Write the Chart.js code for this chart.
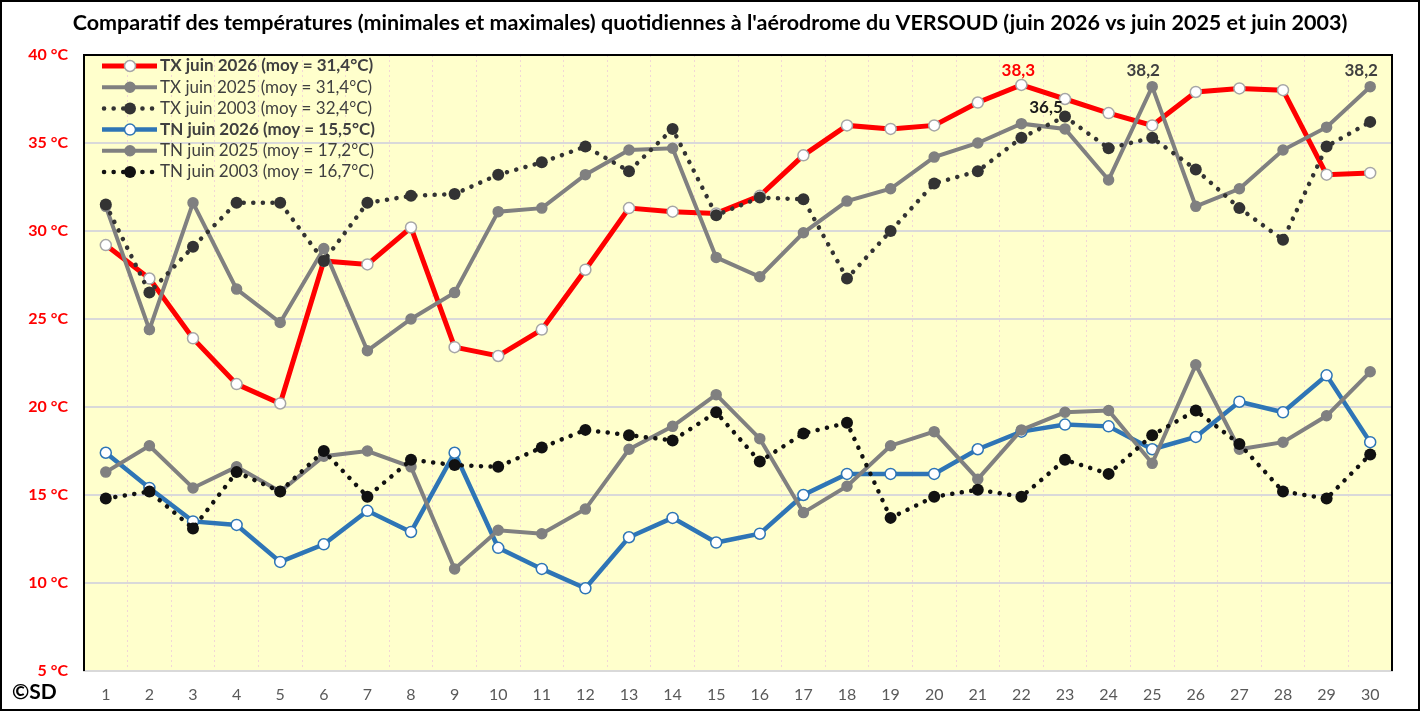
<!DOCTYPE html>
<html lang="fr">
<head>
<meta charset="utf-8">
<title>Températures juin - Le Versoud</title>
<script src="https://cdn.jsdelivr.net/npm/chart.js@4.4.1/dist/chart.umd.min.js"></script>
<style>
  html, body { margin: 0; padding: 0; background: #fff; }
  #wrap { width: 1420px; height: 711px; }
</style>
</head>
<body>
<div id="wrap"><canvas id="chart-versoud" width="1420" height="711"></canvas></div>
<script>
  "use strict";

  var days = ['1', '2', '3', '4', '5', '6', '7', '8', '9', '10', '11', '12', '13', '14', '15',
    '16', '17', '18', '19', '20', '21', '22', '23', '24', '25', '26', '27', '28', '29', '30'];

  var txJuin2026 = [29.2, 27.3, 23.9, 21.3, 20.2, 28.3, 28.1, 30.2, 23.4, 22.9, 24.4, 27.8, 31.3, 31.1, 31.0,
    32.0, 34.3, 36.0, 35.8, 36.0, 37.3, 38.3, 37.5, 36.7, 36.0, 37.9, 38.1, 38.0, 33.2, 33.3];
  var txJuin2025 = [31.4, 24.4, 31.6, 26.7, 24.8, 29.0, 23.2, 25.0, 26.5, 31.1, 31.3, 33.2, 34.6, 34.7, 28.5,
    27.4, 29.9, 31.7, 32.4, 34.2, 35.0, 36.1, 35.8, 32.9, 38.2, 31.4, 32.4, 34.6, 35.9, 38.2];
  var txJuin2003 = [31.5, 26.5, 29.1, 31.6, 31.6, 28.3, 31.6, 32.0, 32.1, 33.2, 33.9, 34.8, 33.4, 35.8, 30.9,
    31.9, 31.8, 27.3, 30.0, 32.7, 33.4, 35.3, 36.5, 34.7, 35.3, 33.5, 31.3, 29.5, 34.8, 36.2];
  var tnJuin2026 = [17.4, 15.4, 13.5, 13.3, 11.2, 12.2, 14.1, 12.9, 17.4, 12.0, 10.8, 9.7, 12.6, 13.7, 12.3,
    12.8, 15.0, 16.2, 16.2, 16.2, 17.6, 18.6, 19.0, 18.9, 17.6, 18.3, 20.3, 19.7, 21.8, 18.0];
  var tnJuin2025 = [16.3, 17.8, 15.4, 16.6, 15.2, 17.2, 17.5, 16.6, 10.8, 13.0, 12.8, 14.2, 17.6, 18.9, 20.7,
    18.2, 14.0, 15.5, 17.8, 18.6, 15.9, 18.7, 19.7, 19.8, 16.8, 22.4, 17.6, 18.0, 19.5, 22.0];
  var tnJuin2003 = [14.8, 15.2, 13.1, 16.3, 15.2, 17.5, 14.9, 17.0, 16.7, 16.6, 17.7, 18.7, 18.4, 18.1, 19.7,
    16.9, 18.5, 19.1, 13.7, 14.9, 15.3, 14.9, 17.0, 16.2, 18.4, 19.8, 17.9, 15.2, 14.8, 17.3];

  var seriesLabels = [
    'TX juin 2026 (moy = 31,4°C)',
    'TX juin 2025 (moy = 31,4°C)',
    'TX juin 2003 (moy = 32,4°C)',
    'TN juin 2026 (moy = 15,5°C)',
    'TN juin 2025 (moy = 17,2°C)',
    'TN juin 2003 (moy = 16,7°C)'
  ];
  var yTicks = [5, 10, 15, 20, 25, 30, 35, 40];

  // valeurs remarquables affichees au-dessus des points : [serie, jour]
  var valueLabels = [[0, 21], [1, 24], [1, 29], [2, 22]];

  var FONT = 'Lato, "Open Sans", "Liberation Sans", sans-serif';
  var labelStyle = {
    0: { color: '#FF0000', dx: -3, dy: -14 },
    1: { color: '#404040', dx: -9, dy: -16 },
    2: { color: '#1A1A1A', dx: -19, dy: -9 }
  };

  function fmt(v) {
    return v.toFixed(1).replace('.', ',');
  }

  function solidLine(label, data, color, width, pointFill, pointBorder, radius) {
    return {
      label: label,
      data: data,
      borderColor: color,
      borderWidth: width,
      pointRadius: radius,
      pointBackgroundColor: pointFill,
      pointBorderColor: pointBorder,
      pointBorderWidth: 1.5,
      tension: 0,
      fill: false
    };
  }

  function dottedLine(label, data, color) {
    return {
      label: label,
      data: data,
      borderColor: color,
      borderWidth: 4.5,
      borderDash: [0.1, 9.5],
      borderCapStyle: 'round',
      pointRadius: 6,
      pointBackgroundColor: color,
      pointBorderColor: color,
      pointBorderWidth: 0,
      tension: 0,
      fill: false
    };
  }

  var datasets = [
    solidLine(seriesLabels[0], txJuin2026, '#FF0000', 5, '#FFFFFF', '#A6A6A6', 5.5),
    solidLine(seriesLabels[1], txJuin2025, '#808080', 4, '#808080', '#808080', 5),
    dottedLine(seriesLabels[2], txJuin2003, '#333333'),
    solidLine(seriesLabels[3], tnJuin2026, '#2E75B6', 4.5, '#FFFFFF', '#2E75B6', 5.5),
    solidLine(seriesLabels[4], tnJuin2025, '#808080', 4, '#808080', '#808080', 5),
    dottedLine(seriesLabels[5], tnJuin2003, '#111111')
  ];
  // les dernieres series passent au-dessus
  datasets.forEach(function (d, i) { d.order = datasets.length - i; });

  var decorPlugin = {
    id: 'decor',
    beforeDraw: function (chart) {
      var a = chart.chartArea, ctx = chart.ctx;
      ctx.save();
      ctx.fillStyle = '#FFFFCC';
      ctx.fillRect(a.left, a.top, a.right - a.left, a.bottom - a.top);
      ctx.restore();
    },
    afterDraw: function (chart) {
      var a = chart.chartArea, ctx = chart.ctx;
      ctx.save();

      // cadre de la zone de trace
      ctx.strokeStyle = '#000000';
      ctx.lineWidth = 2;
      ctx.setLineDash([]);
      ctx.beginPath();
      ctx.moveTo(a.left, a.bottom);
      ctx.lineTo(a.left, a.top);
      ctx.lineTo(a.right, a.top);
      ctx.lineTo(a.right, a.bottom);
      ctx.stroke();

      // cadre general
      ctx.strokeRect(1, 1, chart.width - 2, chart.height - 2);

      // legende interne
      var rowY = 66, rowH = 21.2;
      chart.data.datasets.forEach(function (d, i) {
        var y = rowY + i * rowH;
        ctx.save();
        ctx.strokeStyle = d.borderColor;
        ctx.lineWidth = d.borderWidth;
        ctx.lineCap = d.borderCapStyle || 'butt';
        ctx.setLineDash(d.borderDash || []);
        ctx.beginPath();
        ctx.moveTo(d.borderDash ? 104 : 102, y);
        ctx.lineTo(157, y);
        ctx.stroke();
        ctx.setLineDash([]);
        ctx.beginPath();
        ctx.arc(130, y, d.pointRadius, 0, Math.PI * 2);
        ctx.fillStyle = d.pointBackgroundColor;
        ctx.fill();
        if (d.pointBorderWidth) {
          ctx.lineWidth = d.pointBorderWidth;
          ctx.strokeStyle = d.pointBorderColor;
          ctx.stroke();
        }
        ctx.restore();
        ctx.font = (i === 0 || i === 3 ? 'bold ' : '') + '17px ' + FONT;
        ctx.fillStyle = '#404040';
        ctx.textAlign = 'left';
        ctx.textBaseline = 'middle';
        ctx.fillText(d.label, 160, y);
      });

      // valeurs remarquables
      ctx.font = 'bold 17px ' + FONT;
      ctx.textAlign = 'center';
      ctx.textBaseline = 'middle';
      valueLabels.forEach(function (vl) {
        var pt = chart.getDatasetMeta(vl[0]).data[vl[1]];
        var st = labelStyle[vl[0]];
        ctx.fillStyle = st.color;
        ctx.fillText(fmt(chart.data.datasets[vl[0]].data[vl[1]]), pt.x + st.dx, pt.y + st.dy);
      });

      // signature
      ctx.font = 'bold 21px ' + FONT;
      ctx.fillStyle = '#000000';
      ctx.textAlign = 'left';
      ctx.fillText('©SD', 12, 692);

      ctx.restore();
    }
  };

  var ctxVersoud = document.getElementById('chart-versoud').getContext('2d');
  var versoudChart = new Chart(ctxVersoud, {
    type: 'line',
    data: {
      labels: days,
      datasets: datasets
    },
    options: {
      responsive: false,
      animation: false,
      layout: {
        padding: 0
      },
      scales: {
        x: {
          offset: true,
          afterFit: function (scale) { scale.height = 40; },
          grid: {
            offset: true,
            color: '#F2D6D6',
            lineWidth: 1,
            drawTicks: false
          },
          border: {
            display: true,
            color: '#D9D9D9',
            width: 2,
            dash: [2, 3]
          },
          ticks: {
            padding: 14,
            color: '#595959',
            font: { family: FONT, size: 16 }
          }
        },
        y: {
          min: 5,
          max: 40,
          afterFit: function (scale) { scale.width = 84; },
          afterBuildTicks: function (scale) {
            scale.ticks = yTicks.map(function (v) { return { value: v }; });
          },
          grid: {
            color: '#D9D9D9',
            lineWidth: 2,
            drawTicks: false
          },
          border: { display: false },
          ticks: {
            padding: 16,
            color: '#FF0000',
            font: { family: FONT, size: 16, weight: 'bold' },
            callback: function (value) {
              return value + ' °C';
            }
          }
        },
        // marge droite (vide)
        yMarge: {
          position: 'right',
          afterFit: function (scale) { scale.width = 28; },
          grid: { display: false, drawTicks: false },
          border: { display: false },
          ticks: { display: false }
        }
      },
      plugins: {
        legend: { display: false },
        tooltip: { enabled: false },
        title: {
          display: true,
          text: "Comparatif des températures (minimales et maximales) quotidiennes à l'aérodrome du VERSOUD (juin 2026 vs juin 2025 et juin 2003)",
          color: '#000000',
          font: { family: FONT, size: 21.5, weight: 'bold', lineHeight: 1.2 },
          padding: { top: 10, bottom: 19.2 }
        }
      }
    },
    plugins: [decorPlugin]
  });
</script>
</body>
</html>
